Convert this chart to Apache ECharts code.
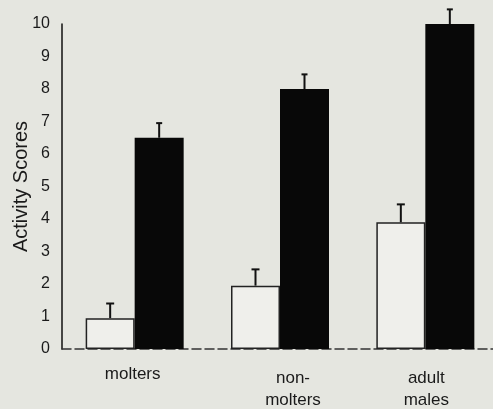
<!DOCTYPE html>
<html>
<head>
<meta charset="utf-8">
<script src="https://cdn.jsdelivr.net/npm/echarts@6/dist/echarts.min.js"></script>
<style>
  html, body { margin: 0; padding: 0; background: #e5e6e0; }
  #chart { width: 493px; height: 409px; }
</style>
</head>
<body>
<div id="chart"></div>
<script>
// Activity scores by group: open bars = first condition, filled bars = second condition
const categories = ['molters', 'non-\nmolters', 'adult\nmales'];
const openValues = [0.95, 1.95, 3.9];
const openErrors = [0.45, 0.5, 0.55];
const filledValues = [6.5, 8.0, 10.0];
const filledErrors = [0.45, 0.45, 0.45];
const yTicks = [0, 1, 2, 3, 4, 5, 6, 7, 8, 9, 10];

const BAR_W = 49;
const FONT = 'Liberation Sans, Arial, Helvetica, sans-serif';

function errorSeries(values, errors, offset, capHalf) {
  return {
    type: 'custom',
    z: 5,
    data: values.map((v, i) => [i, v, errors[i]]),
    renderItem: function (params, api) {
      const i = api.value(0);
      const v = api.value(1);
      const e = api.value(2);
      const base = api.coord([i, v]);
      const top = api.coord([i, v + e]);
      const x = base[0] + offset;
      const style = { stroke: '#111', lineWidth: 2 };
      return {
        type: 'group',
        children: [
          { type: 'line', shape: { x1: x, y1: base[1], x2: x, y2: top[1] }, style: style },
          { type: 'line', shape: { x1: x - capHalf, y1: top[1], x2: x + capHalf, y2: top[1] }, style: style }
        ]
      };
    }
  };
}

const chart = echarts.init(document.getElementById('chart'));
chart.setOption({
  backgroundColor: '#e5e6e0',
  animation: false,
  grid: { left: 62, width: 436, top: 24, bottom: 60, outerBoundsMode: 'none', containLabel: false },
  xAxis: {
    type: 'category',
    data: categories.map((c, i) => i === 1
      ? { value: c, textStyle: { padding: [5, 0, 0, 26] } }
      : (i === 2 ? { value: c, textStyle: { padding: [5, 0, 0, 2] } } : { value: c, textStyle: { padding: [1, 4, 0, 0] } })),
    axisLine: { lineStyle: { color: '#333', width: 1.5, type: [9, 4] } },
    axisTick: { show: false },
    axisLabel: {
      color: '#1a1a1a',
      fontFamily: FONT,
      fontSize: 17,
      lineHeight: 22,
      margin: 13,
      interval: 0
    }
  },
  yAxis: {
    type: 'value',
    min: 0,
    max: 10,
    interval: 1,
    name: 'Activity Scores',
    nameLocation: 'middle',
    nameGap: 31,
    nameMoveOverlap: false,
    nameRotate: 90,
    nameTextStyle: {
      color: '#1a1a1a',
      fontFamily: FONT,
      fontSize: 20
    },
    axisLine: { show: true, lineStyle: { color: '#111', width: 1.5 } },
    axisTick: { show: false },
    splitLine: { show: false },
    axisLabel: {
      color: '#1a1a1a',
      fontFamily: FONT,
      fontSize: 16,
      margin: 12,
      formatter: function (v) { return yTicks.indexOf(v) >= 0 ? String(v) : ''; }
    }
  },
  series: [
    {
      type: 'bar',
      data: openValues,
      barWidth: BAR_W,
      barGap: '0%',
      itemStyle: { color: '#efefeb', borderColor: '#222', borderWidth: 1.5 }
    },
    {
      type: 'bar',
      data: filledValues,
      barWidth: BAR_W,
      barGap: '0%',
      itemStyle: { color: '#080808' }
    },
    errorSeries(openValues, openErrors, -BAR_W / 2, 4),
    errorSeries(filledValues, filledErrors, BAR_W / 2, 3)
  ]
});
</script>
</body>
</html>
